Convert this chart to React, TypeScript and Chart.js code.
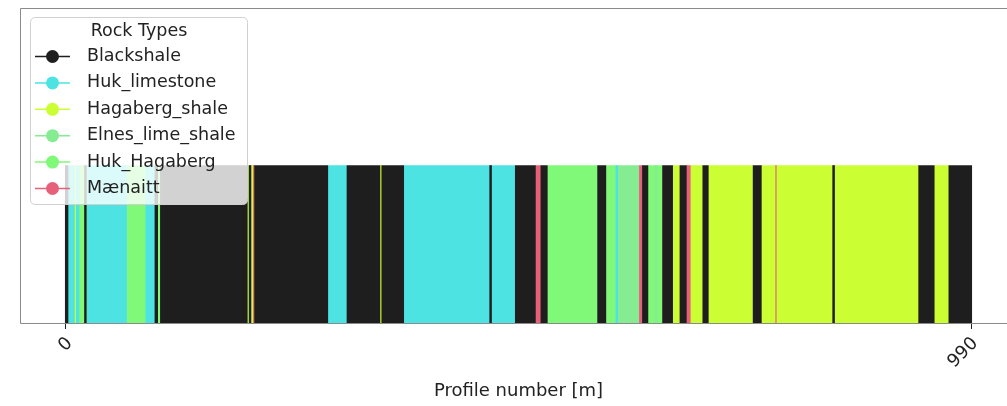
import React, { useEffect, useRef } from "react";
import { Chart, registerables } from "chart.js";

Chart.register(...registerables);

// Rock classes and their fill colours
const rockTypes = [
  "Blackshale",
  "Huk_limestone",
  "Hagaberg_shale",
  "Elnes_lime_shale",
  "Huk_Hagaberg",
  "Mænaitt",
];
const rockColors = ["#1e1e1e", "#4de3e3", "#ccff33", "#86ec92", "#80f878", "#e6607a"];

// Runs of identical rock type along the profile: first profile of each run
// and the index of its rock type. A run lasts until the next run starts.
const segmentStart = [
  0, 3, 10, 12, 15, 21, 23, 24, 67, 88, 98, 101, 104, 199, 201, 203, 205, 207,
  287, 308, 344, 346, 370, 464, 466, 492, 514, 520, 527, 582, 591, 602, 604,
  627, 631, 637, 645, 647, 653, 664, 672, 679, 684, 697, 703, 752, 761, 776,
  778, 839, 841, 933, 950, 966,
];
const segmentRock = [
  0, 1, 2, 1, 4, 0, 4, 1, 4, 1, 0, 4, 0, 2, 0, 2, 5, 0,
  1, 0, 2, 0, 1, 0, 1, 0, 5, 0, 4, 0, 4, 1, 3,
  5, 0, 4, 3, 4, 0, 2, 0, 5, 2, 0, 2, 0, 2, 5,
  2, 0, 2, 0, 2, 0,
];
const lastProfile = 990;
const tickValues = [0, 990];

const axisTitle = "Profile number [m]";
const legendTitle = "Rock Types";
const FONT = "'DejaVu Sans', sans-serif";

function segmentEnd(i: number): number {
  return i + 1 < segmentStart.length ? segmentStart[i + 1] : lastProfile + 1;
}

// Axes frame (spines) drawn above the bars
const framePlugin = {
  id: "frame",
  afterDatasetsDraw(chart: any) {
    const { ctx, chartArea } = chart;
    ctx.save();
    ctx.strokeStyle = "#8a8a8a";
    ctx.lineWidth = 1;
    ctx.beginPath();
    ctx.moveTo(chartArea.left + 0.5, chartArea.bottom + 0.5);
    ctx.lineTo(chartArea.left + 0.5, chartArea.top + 0.5);
    ctx.lineTo(chartArea.right + 0.5, chartArea.top + 0.5);
    ctx.moveTo(chartArea.left + 0.5, chartArea.bottom + 0.5);
    ctx.lineTo(chartArea.right + 0.5, chartArea.bottom + 0.5);
    ctx.stroke();
    ctx.restore();
  },
};

// Legend box with a title and line-through-circle markers
const rockLegendPlugin = {
  id: "rockLegend",
  afterDraw(chart: any) {
    const ctx = chart.ctx as CanvasRenderingContext2D;
    const bx = 30.5, by = 17.5, bw = 217, bh = 187, r = 5;
    ctx.save();
    ctx.beginPath();
    ctx.moveTo(bx + r, by);
    ctx.lineTo(bx + bw - r, by);
    ctx.quadraticCurveTo(bx + bw, by, bx + bw, by + r);
    ctx.lineTo(bx + bw, by + bh - r);
    ctx.quadraticCurveTo(bx + bw, by + bh, bx + bw - r, by + bh);
    ctx.lineTo(bx + r, by + bh);
    ctx.quadraticCurveTo(bx, by + bh, bx, by + bh - r);
    ctx.lineTo(bx, by + r);
    ctx.quadraticCurveTo(bx, by, bx + r, by);
    ctx.closePath();
    ctx.fillStyle = "rgba(255,255,255,0.8)";
    ctx.fill();
    ctx.strokeStyle = "#d0d0d0";
    ctx.lineWidth = 1;
    ctx.stroke();

    ctx.fillStyle = "#222";
    ctx.font = `17.5px ${FONT}`;
    ctx.textBaseline = "middle";
    ctx.textAlign = "center";
    ctx.fillText(legendTitle, bx + bw / 2, 31);

    ctx.textAlign = "left";
    rockTypes.forEach((name, i) => {
      const y = 56.5 + i * 26.4;
      ctx.strokeStyle = rockColors[i];
      ctx.lineWidth = 1.5;
      ctx.beginPath();
      ctx.moveTo(35, y);
      ctx.lineTo(70, y);
      ctx.stroke();
      ctx.fillStyle = rockColors[i];
      ctx.beginPath();
      ctx.arc(52.5, y, 6.5, 0, Math.PI * 2);
      ctx.fill();
      ctx.fillStyle = "#222";
      ctx.fillText(name, 87, y);
    });
    ctx.restore();
  },
};

export default function App() {
  const canvasRef = useRef<HTMLCanvasElement | null>(null);

  useEffect(() => {
    const canvas = canvasRef.current;
    if (!canvas) return;

    const datasets = rockTypes.map((name, t) => ({
      label: name,
      data: segmentStart.flatMap((s, i) =>
        segmentRock[i] === t ? [{ x: [s - 0.5, segmentEnd(i) - 0.5], y: "strip" }] : []
      ),
      backgroundColor: rockColors[t],
      borderWidth: 0,
      grouped: false,
      categoryPercentage: 1,
      barPercentage: 1,
    }));

    const chart = new Chart(canvas, {
      type: "bar",
      data: { labels: ["above", "strip"], datasets: datasets as any },
      options: {
        indexAxis: "y",
        animation: false,
        responsive: false,
        maintainAspectRatio: false,
        devicePixelRatio: 1,
        layout: { padding: { left: 20, top: 8, right: 0, bottom: 0 } },
        plugins: {
          legend: { display: false },
          tooltip: { enabled: false },
        },
        scales: {
          y: {
            type: "category",
            display: false,
          },
          x: {
            type: "linear",
            position: "bottom",
            min: -50,
            max: 1040,
            afterBuildTicks: (scale: any) => {
              scale.ticks = tickValues.map((v) => ({ value: v }));
            },
            afterFit: (scale: any) => {
              scale.height = 83;
            },
            border: { display: false },
            grid: {
              drawOnChartArea: false,
              drawTicks: true,
              tickLength: 6,
              tickColor: "#222",
              tickWidth: 1,
            },
            ticks: {
              autoSkip: false,
              minRotation: 45,
              maxRotation: 45,
              padding: 4,
              labelOffset: 4,
              color: "#222",
              font: { family: FONT, size: 18 },
            },
            title: {
              display: true,
              text: axisTitle,
              color: "#222",
              font: { family: FONT, size: 18 },
              padding: { top: 0, bottom: 4 },
            },
          },
        },
      },
      plugins: [framePlugin, rockLegendPlugin],
    });

    return () => chart.destroy();
  }, []);

  return (
    <div
      style={{
        position: "fixed",
        left: 0,
        top: 0,
        width: 1007,
        height: 406,
        overflow: "hidden",
        background: "#fff",
      }}
    >
      <canvas
        ref={canvasRef}
        width={1017}
        height={406}
        style={{ display: "block", width: 1017, height: 406 }}
      />
    </div>
  );
}
